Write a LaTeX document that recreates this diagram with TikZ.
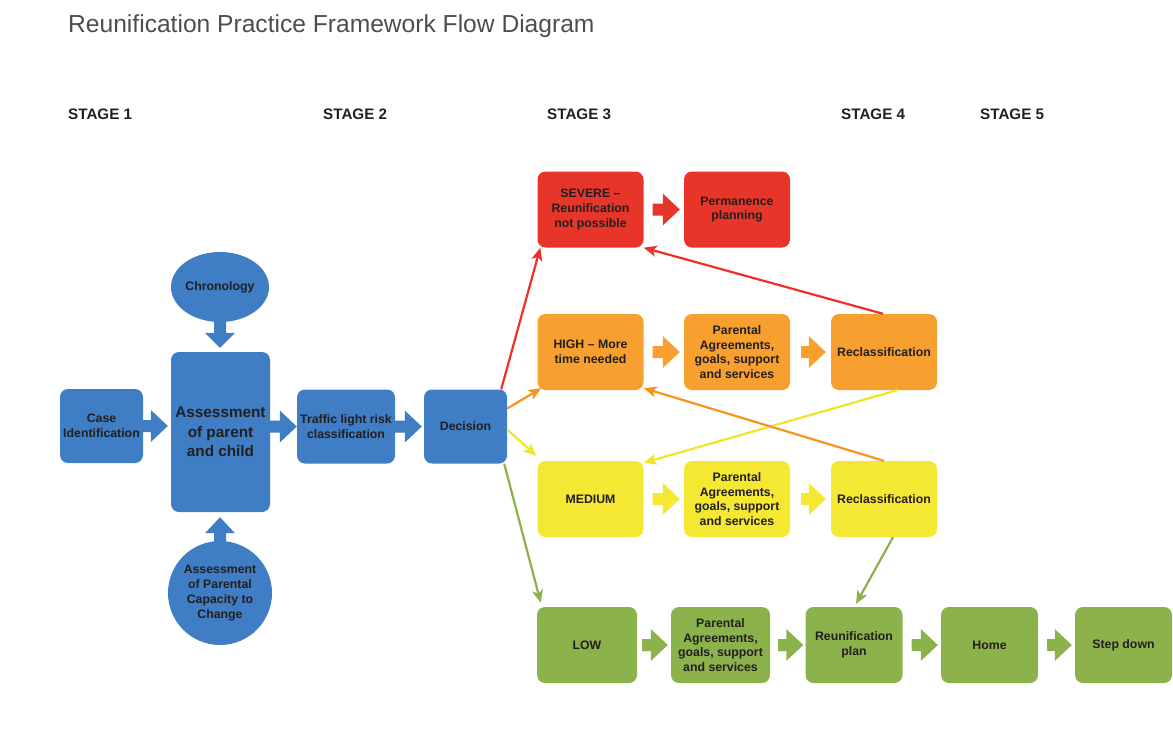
\documentclass[tikz,border=0pt]{standalone}
\usepackage{fontspec}
\setmainfont{Liberation Sans}
\usetikzlibrary{calc,arrows.meta,shapes.geometric}
\definecolor{cblue}{HTML}{3F7DC4}
\definecolor{cred}{HTML}{E8352A}
\definecolor{corange}{HTML}{F7A030}
\definecolor{cyellow}{HTML}{F4E832}
\definecolor{cgreen}{HTML}{8CB24B}
\definecolor{lred}{HTML}{EE3124}
\definecolor{lorange}{HTML}{F7941D}
\definecolor{lyellow}{HTML}{EFE62A}
\definecolor{lgreen}{HTML}{8DB04B}
\definecolor{txt}{HTML}{231F20}
\definecolor{titlegray}{HTML}{4D4D4D}
\newcommand{\harrow}[6]{%
  \fill[#1] let \p1=(#2.east), \p2=(#3.west), \p3=(#6) in
   ({\x1+#4pt},{\y3+6pt}) -- ({\x2-#5pt-17pt},{\y3+6pt}) -- ({\x2-#5pt-17pt},{\y3+16pt}) --
   ({\x2-#5pt},{\y3}) -- ({\x2-#5pt-17pt},{\y3-16pt}) -- ({\x2-#5pt-17pt},{\y3-6pt}) --
   ({\x1+#4pt},{\y3-6pt}) -- cycle;}
\newcommand{\vdown}[3]{%
  \fill[#1] let \p1=(#2.south), \p2=(#3.north) in
   ({\x1-6pt},{\y1+3pt}) -- ({\x1-6pt},{\y2+19pt}) -- ({\x1-15pt},{\y2+19pt}) --
   ({\x1},{\y2+4pt}) -- ({\x1+15pt},{\y2+19pt}) -- ({\x1+6pt},{\y2+19pt}) --
   ({\x1+6pt},{\y1+3pt}) -- cycle;}
\newcommand{\vup}[3]{%
  \fill[#1] let \p1=(#2.north), \p2=(#3.south) in
   ({\x1-6pt},{\y1-3pt}) -- ({\x1-6pt},{\y2-21pt}) -- ({\x1-15pt},{\y2-21pt}) --
   ({\x1},{\y2-5pt}) -- ({\x1+15pt},{\y2-21pt}) -- ({\x1+6pt},{\y2-21pt}) --
   ({\x1+6pt},{\y1-3pt}) -- cycle;}
\begin{document}
\begin{tikzpicture}[x=1pt,y=-1pt,
  box/.style={rounded corners=8pt, inner sep=0pt, align=center, text=txt,
    font=\bfseries\fontsize{12.3}{14.8}\selectfont, minimum width=106pt, minimum height=76pt},
  bluebox/.style={box, fill=cblue},
  redbox/.style={box, fill=cred},
  orbox/.style={box, fill=corange},
  yebox/.style={box, fill=cyellow},
  grbox/.style={box, fill=cgreen},
  stagelbl/.style={anchor=base west, inner sep=0pt, font=\bfseries\fontsize{15.2}{17}\selectfont, text=txt},
  thin/.style={line width=2.2pt, -{Stealth[length=13pt,width=11pt,inset=3.5pt]}}
]
\useasboundingbox (0,0) rectangle (1173,745);
\node[anchor=base west, inner sep=0pt, font=\fontsize{24.6}{28}\selectfont, text=titlegray] (title) at (68,32) {Reunification Practice Framework Flow Diagram};
\node[stagelbl] (s1) at (68,119) {STAGE 1};
\node[stagelbl] (s2) at (323,119) {STAGE 2};
\node[stagelbl] (s3) at (547,119) {STAGE 3};
\node[stagelbl] (s4) at (841,119) {STAGE 4};
\node[stagelbl] (s5) at (980,119) {STAGE 5};
% stage 1 and 2
\node[bluebox, minimum width=83pt, minimum height=74pt] (case) at (101.5,426) {Case\\Identification};
\node[bluebox, minimum width=99pt, minimum height=160pt, font=\bfseries\fontsize{15.3}{19.5}\selectfont] (assess) at (220.5,432) {Assessment\\of parent\\and child};
\node[ellipse, fill=cblue, inner sep=0pt, minimum width=98pt, minimum height=70pt, text=txt, font=\bfseries\fontsize{12.3}{14.8}\selectfont] (chron) at (220,287) {Chronology};
\node[circle, fill=cblue, inner sep=0pt, minimum size=104pt, align=center, text=txt, font=\bfseries\fontsize{12.3}{14.8}\selectfont] (cap) at (220,593) {Assessment\\of Parental\\Capacity to\\Change};
\node[bluebox, minimum width=98pt, minimum height=74pt] (traffic) at (346,426.5) {Traffic light risk\\classification};
\node[bluebox, minimum width=83pt, minimum height=74pt] (dec) at (465.5,426.5) {Decision};
% stage 3+
\node[redbox] (sev) at (590.5,209.5) {SEVERE –\\Reunification\\not possible};
\node[redbox] (perm) at (737,209.5) {Permanence\\planning};
\node[orbox] (high) at (590.5,352) {HIGH – More\\time needed};
\node[orbox] (parH) at (737,352) {Parental\\Agreements,\\goals, support\\and services};
\node[orbox] (recH) at (884,352) {Reclassification};
\node[yebox] (med) at (590.5,499) {MEDIUM};
\node[yebox] (parM) at (737,499) {Parental\\Agreements,\\goals, support\\and services};
\node[yebox] (recM) at (884,499) {Reclassification};
\node[grbox, minimum width=100pt] (low) at (587,645) {LOW};
\node[grbox, minimum width=99pt] (parL) at (720.5,645) {Parental\\Agreements,\\goals, support\\and services};
\node[grbox, minimum width=97pt] (reun) at (854,645) {Reunification\\plan};
\node[grbox, minimum width=97pt] (home) at (989.5,645) {Home};
\node[grbox, minimum width=97pt] (stepdown) at (1123.5,645) {Step down};
% block arrows
\harrow{cblue}{case}{assess}{0}{3}{case}
\harrow{cblue}{assess}{traffic}{0}{0}{traffic}
\harrow{cblue}{traffic}{dec}{0}{2}{traffic}
\vdown{cblue}{chron}{assess}
\vup{cblue}{cap}{assess}
\harrow{cred}{sev}{perm}{9}{4}{sev}
\harrow{corange}{high}{parH}{9}{4}{high}
\harrow{corange}{parH}{recH}{11}{5}{parH}
\harrow{cyellow}{med}{parM}{9}{4}{med}
\harrow{cyellow}{parM}{recM}{11}{5}{parM}
\harrow{cgreen}{low}{parL}{5}{3}{low}
\harrow{cgreen}{parL}{reun}{8}{2}{parL}
\harrow{cgreen}{reun}{home}{9}{3}{reun}
\harrow{cgreen}{home}{stepdown}{9}{3}{home}
% thin connectors
\draw[thin, lred] ([xshift=-6pt]dec.north east) -- ([xshift=3pt]sev.south west);
\draw[thin, lorange] ([yshift=18pt]dec.east) -- ([xshift=4pt,yshift=2pt]high.south west);
\draw[thin, lyellow] ([yshift=-3pt]dec.east) -- ([xshift=-1pt,yshift=5pt]med.north west);
\draw[thin, lgreen] ([xshift=-3pt]dec.south east) -- ([xshift=4pt,yshift=4pt]low.north west);
\draw[thin, lred] ([xshift=-1pt]recH.north) -- (sev.south east);
\draw[thin, lyellow] ([xshift=13pt]recH.south) -- ([yshift=-2pt]med.north east);
\draw[thin, lorange] (recM.north) -- ([yshift=2pt]high.south east);
\draw[thin, lgreen] ([xshift=9pt]recM.south) -- ([xshift=2pt,yshift=3pt]reun.north);
\end{tikzpicture}
\end{document}
